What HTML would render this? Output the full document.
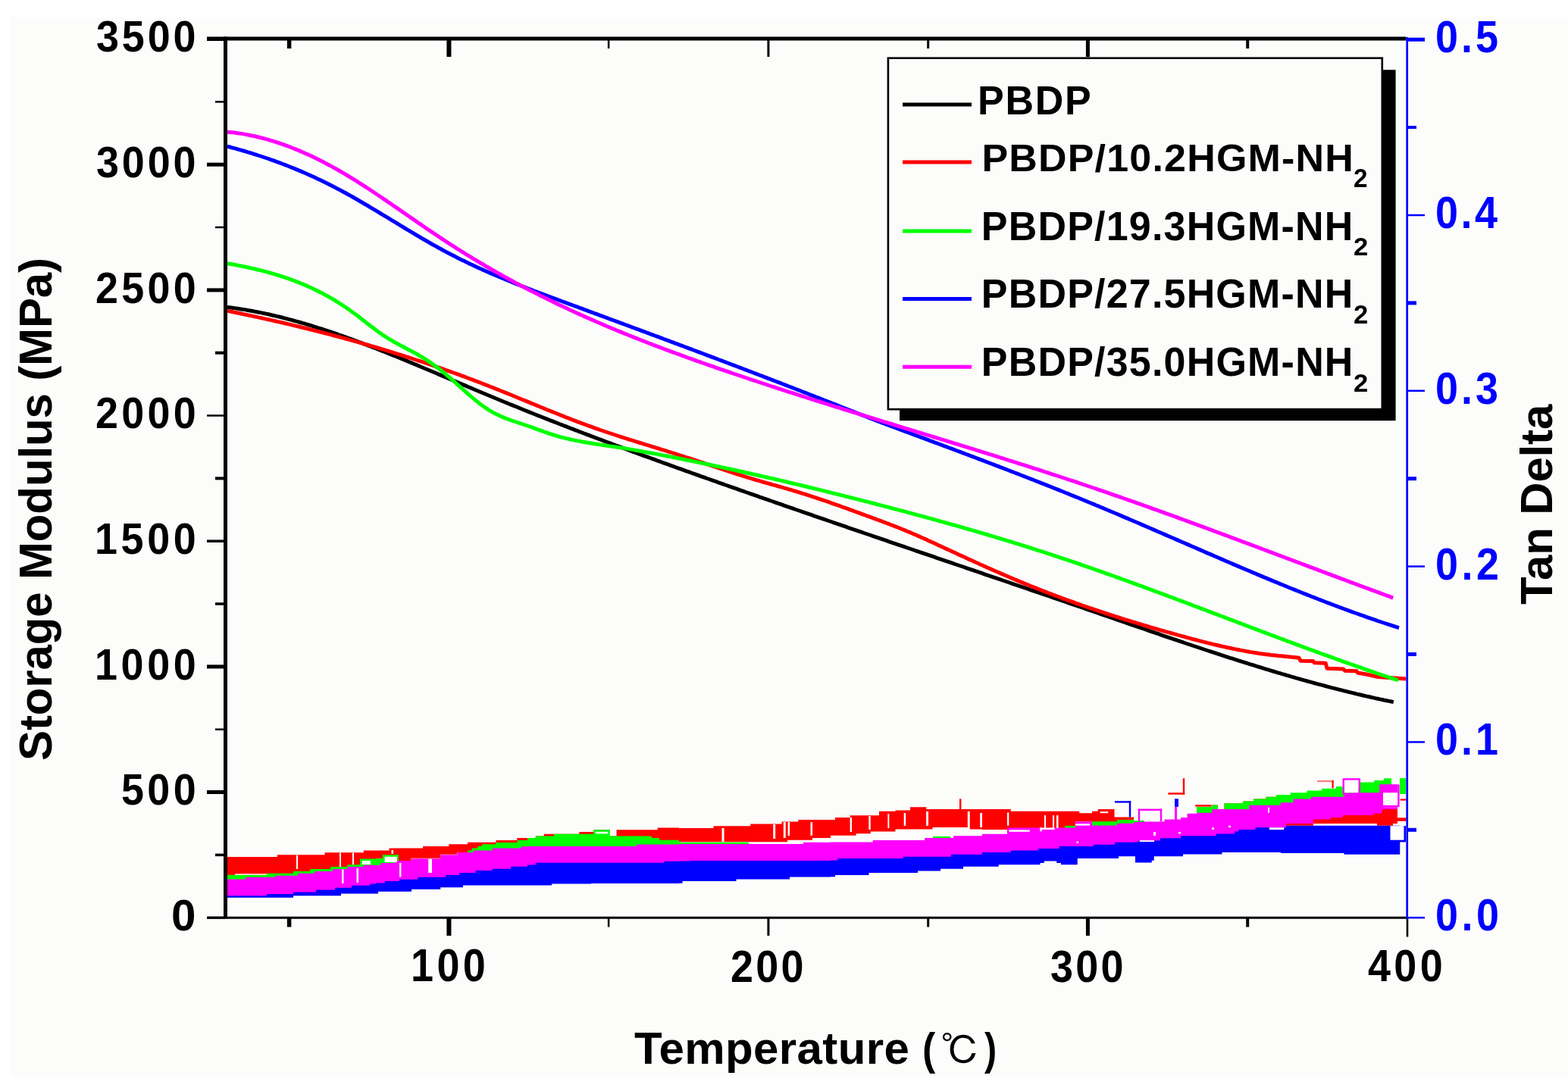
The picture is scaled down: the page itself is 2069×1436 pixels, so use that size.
<!DOCTYPE html><html><head><meta charset="utf-8"><style>html,body{margin:0;padding:0;background:#fff;}svg{display:block}text{font-family:'Liberation Sans', Arial, sans-serif;font-weight:bold;}</style></head><body>
<svg width="2069" height="1436" viewBox="0 0 2069 1436">
<rect x="0" y="0" width="2069" height="1436" fill="#fff"/>
<rect x="13" y="23" width="2056" height="1398" fill="#fcfcfb"/>
<polygon points="300.00,1131.1 365.75,1131.1 365.75,1128.2 428.50,1128.2 428.50,1125.3 479.75,1125.3 479.75,1122.4 496.00,1122.4 496.00,1122.5 513.50,1122.5 513.50,1119.6 558.00,1119.6 558.00,1117.0 592.25,1117.0 592.25,1114.3 617.00,1114.3 617.00,1111.7 654.50,1111.7 654.50,1109.0 682.25,1109.0 682.25,1106.1 696.00,1106.1 696.00,1106.0 706.75,1106.0 706.75,1103.4 717.75,1103.4 717.75,1100.7 764.25,1100.7 764.25,1098.0 783.00,1098.0 783.00,1095.3 804.75,1095.3 804.75,1103.4 813.50,1103.4 813.50,1095.3 867.75,1095.3 867.75,1092.4 896.00,1092.4 896.00,1092.9 941.50,1092.9 941.50,1090.2 990.25,1090.2 990.25,1087.5 1031.50,1087.5 1031.50,1084.6 1053.25,1084.6 1053.25,1082.0 1102.00,1082.0 1102.00,1079.0 1121.75,1079.0 1121.75,1076.3 1160.00,1076.3 1160.00,1070.8 1181.50,1070.8 1181.50,1069.6 1201.00,1069.6 1201.00,1065.3 1222.25,1065.3 1222.25,1067.9 1296.00,1067.9 1296.00,1068.0 1333.75,1068.0 1333.75,1070.7 1424.25,1070.7 1424.25,1073.2 1441.00,1073.2 1441.00,1070.7 1448.75,1070.7 1448.75,1068.0 1470.50,1068.0 1470.50,1078.5 1496.00,1078.5 1496.00,1083.0 1510.00,1083.0 1510.00,1085.4 1536.75,1085.4 1536.75,1082.5 1558.00,1082.5 1558.00,1080.1 1566.75,1080.1 1566.75,1074.8 1579.00,1074.8 1579.00,1065.1 1599.00,1065.1 1599.00,1062.6 1606.75,1062.6 1606.75,1069.0 1615.50,1069.0 1615.50,1060.3 1640.00,1060.3 1640.00,1057.4 1654.00,1057.4 1654.00,1054.5 1670.50,1054.5 1670.50,1051.8 1684.00,1051.8 1684.00,1049.1 1690.00,1049.1 1690.00,1090.4 1697.00,1090.4 1697.00,1085.0 1733.00,1085.0 1733.00,1079.5 1755.25,1079.5 1755.25,1077.3 1771.50,1077.3 1771.50,1074.1 1812.25,1074.1 1812.25,1071.4 1823.25,1071.4 1823.25,1066.0 1844.00,1066.0 1844.00,1087.0 1838.00,1087.0 1838.00,1089.7 1817.00,1089.7 1817.00,1087.0 1733.00,1087.0 1733.00,1089.7 1697.00,1089.7 1697.00,1092.0 1690.00,1092.0 1690.00,1063.8 1689.50,1063.8 1689.50,1066.7 1648.25,1066.7 1648.25,1072.0 1599.00,1072.0 1599.00,1076.8 1579.00,1076.8 1579.00,1077.8 1566.75,1077.8 1566.75,1083.1 1558.00,1083.1 1558.00,1085.5 1536.75,1085.5 1536.75,1088.4 1505.75,1088.4 1505.75,1089.0 1496.00,1089.0 1496.00,1082.0 1474.00,1082.0 1474.00,1085.0 1441.00,1085.0 1441.00,1084.3 1419.00,1084.3 1419.00,1090.0 1405.00,1090.0 1405.00,1093.0 1329.00,1093.0 1329.00,1094.9 1296.00,1094.9 1296.00,1094.5 1277.00,1094.5 1277.00,1092.0 1230.50,1092.0 1230.50,1094.5 1181.50,1094.5 1181.50,1097.4 1148.75,1097.4 1148.75,1100.3 1129.50,1100.3 1129.50,1102.7 1096.00,1102.7 1096.00,1105.9 1072.00,1105.9 1072.00,1108.8 1039.00,1108.8 1039.00,1111.2 896.00,1111.2 896.00,1110.2 870.00,1110.2 870.00,1107.5 859.50,1107.5 859.50,1104.9 804.75,1104.9 804.75,1096.8 783.00,1096.8 783.00,1102.2 731.00,1102.2 731.00,1104.9 706.75,1104.9 706.75,1107.5 696.00,1107.5 696.00,1110.5 682.75,1110.5 682.75,1113.4 654.50,1113.4 654.50,1115.8 636.25,1115.8 636.25,1118.2 630.50,1118.2 630.50,1121.1 622.75,1121.1 622.75,1124.0 617.00,1124.0 617.00,1127.5 616.00,1127.5 616.00,1125.0 603.00,1125.0 603.00,1127.8 581.00,1127.8 581.00,1132.7 542.50,1132.7 542.50,1135.9 526.00,1135.9 526.00,1129.8 507.75,1129.8 507.75,1133.2 496.00,1133.2 496.00,1135.0 475.00,1135.0 475.00,1142.7 458.50,1142.7 458.50,1145.6 436.00,1145.6 436.00,1148.5 409.00,1148.5 409.00,1151.5 387.00,1151.5 387.00,1154.3 352.00,1154.3 352.00,1156.3 300.00,1156.3" fill="#ff0000"/>
<polygon points="300.00,1154.8 352.00,1154.8 352.00,1152.8 387.00,1152.8 387.00,1150.0 409.00,1150.0 409.00,1147.0 436.00,1147.0 436.00,1144.1 458.50,1144.1 458.50,1141.2 475.00,1141.2 475.00,1133.5 496.00,1133.5 496.00,1133.2 504.75,1133.2 504.75,1128.3 526.00,1128.3 526.00,1137.1 542.50,1137.1 542.50,1134.2 581.25,1134.2 581.25,1129.3 603.50,1129.3 603.50,1126.0 617.00,1126.0 617.00,1122.5 622.75,1122.5 622.75,1119.6 630.50,1119.6 630.50,1116.7 636.25,1116.7 636.25,1114.3 654.50,1114.3 654.50,1111.9 682.75,1111.9 682.75,1109.0 696.00,1109.0 696.00,1106.0 706.75,1106.0 706.75,1103.4 731.00,1103.4 731.00,1100.7 783.00,1100.7 783.00,1095.3 804.75,1095.3 804.75,1103.4 859.50,1103.4 859.50,1106.0 870.00,1106.0 870.00,1108.7 896.00,1108.7 896.00,1111.7 988.00,1111.7 988.00,1115.1 1060.00,1115.1 1060.00,1112.7 1096.00,1112.7 1096.00,1112.4 1151.75,1112.4 1151.75,1110.0 1220.25,1110.0 1220.25,1107.1 1231.00,1107.1 1231.00,1104.1 1254.50,1104.1 1254.50,1107.1 1258.00,1107.1 1258.00,1104.2 1296.00,1104.2 1296.00,1101.7 1329.00,1101.7 1329.00,1093.5 1405.00,1093.5 1405.00,1090.0 1419.00,1090.0 1419.00,1085.3 1441.00,1085.3 1441.00,1084.3 1474.00,1084.3 1474.00,1081.9 1496.00,1081.9 1496.00,1083.0 1510.00,1083.0 1510.00,1085.4 1536.75,1085.4 1536.75,1082.5 1558.00,1082.5 1558.00,1080.1 1566.75,1080.1 1566.75,1074.8 1579.00,1074.8 1579.00,1065.1 1599.00,1065.1 1599.00,1062.6 1606.75,1062.6 1606.75,1069.0 1615.50,1069.0 1615.50,1060.3 1640.00,1060.3 1640.00,1057.4 1654.00,1057.4 1654.00,1054.5 1670.50,1054.5 1670.50,1051.8 1684.00,1051.8 1684.00,1049.1 1690.00,1049.1 1690.00,1048.9 1702.75,1048.9 1702.75,1046.2 1724.50,1046.2 1724.50,1043.5 1744.00,1043.5 1744.00,1040.8 1763.00,1040.8 1763.00,1038.1 1771.50,1038.1 1771.50,1040.0 1795.00,1040.0 1795.00,1032.6 1813.25,1032.6 1813.25,1029.9 1826.00,1029.9 1826.00,1027.2 1836.00,1027.2 1836.00,1036.4 1844.00,1036.4 1844.00,1043.4 1820.50,1043.4 1820.50,1054.2 1787.00,1054.2 1787.00,1057.0 1773.50,1057.0 1773.50,1059.7 1730.00,1059.7 1730.00,1062.4 1706.50,1062.4 1706.50,1067.3 1690.00,1067.3 1690.00,1067.8 1689.50,1067.8 1689.50,1070.7 1648.25,1070.7 1648.25,1076.0 1599.00,1076.0 1599.00,1080.8 1579.00,1080.8 1579.00,1081.8 1566.75,1081.8 1566.75,1087.1 1558.00,1087.1 1558.00,1089.5 1536.75,1089.5 1536.75,1092.4 1505.75,1092.4 1505.75,1093.0 1496.00,1093.0 1496.00,1094.7 1474.00,1094.7 1474.00,1097.6 1441.00,1097.6 1441.00,1092.3 1419.00,1092.3 1419.00,1100.5 1329.00,1100.5 1329.00,1108.7 1296.00,1108.7 1296.00,1111.2 1258.00,1111.2 1258.00,1114.1 1220.25,1114.1 1220.25,1117.0 1151.75,1117.0 1151.75,1119.4 1096.00,1119.4 1096.00,1119.7 1060.00,1119.7 1060.00,1122.1 896.00,1122.1 896.00,1122.5 840.00,1122.5 840.00,1124.9 696.00,1124.9 696.00,1125.2 687.50,1125.2 687.50,1127.6 649.75,1127.6 649.75,1130.5 624.75,1130.5 624.75,1133.0 603.50,1133.0 603.50,1136.3 581.25,1136.3 581.25,1141.2 542.50,1141.2 542.50,1144.1 521.25,1144.1 521.25,1147.0 502.00,1147.0 502.00,1149.9 496.00,1149.9 496.00,1149.7 479.75,1149.7 479.75,1152.1 458.50,1152.1 458.50,1155.0 439.00,1155.0 439.00,1158.0 415.00,1158.0 415.00,1160.8 393.00,1160.8 393.00,1163.7 363.00,1163.7 363.00,1165.7 324.00,1165.7 324.00,1168.6 300.00,1168.6" fill="#00ff00"/>
<polygon points="300.00,1176.3 352.00,1176.3 352.00,1173.9 387.00,1173.9 387.00,1171.5 417.00,1171.5 417.00,1168.6 442.00,1168.6 442.00,1165.7 464.00,1165.7 464.00,1162.8 488.00,1162.8 488.00,1160.4 496.00,1160.4 496.00,1159.5 507.75,1159.5 507.75,1157.1 527.00,1157.1 527.00,1154.7 551.25,1154.7 551.25,1151.8 588.00,1151.8 588.00,1148.9 606.25,1148.9 606.25,1146.0 627.50,1146.0 627.50,1143.1 649.75,1143.1 649.75,1140.7 674.00,1140.7 674.00,1137.8 696.00,1137.8 696.00,1135.5 706.75,1135.5 706.75,1132.8 876.00,1132.8 876.00,1130.7 896.00,1130.7 896.00,1130.5 911.00,1130.5 911.00,1129.9 1096.00,1129.9 1096.00,1129.5 1105.25,1129.5 1105.25,1127.1 1191.75,1127.1 1191.75,1124.7 1255.00,1124.7 1255.00,1121.8 1296.00,1121.8 1296.00,1118.9 1333.75,1118.9 1333.75,1116.5 1370.00,1116.5 1370.00,1114.0 1397.50,1114.0 1397.50,1111.1 1443.00,1111.1 1443.00,1108.7 1471.00,1108.7 1471.00,1105.8 1496.00,1105.8 1496.00,1105.5 1502.00,1105.5 1502.00,1103.6 1531.00,1103.6 1531.00,1100.2 1558.00,1100.2 1558.00,1097.3 1604.50,1097.3 1604.50,1094.4 1629.00,1094.4 1629.00,1091.5 1634.25,1091.5 1634.25,1089.1 1656.50,1089.1 1656.50,1086.2 1690.00,1086.2 1690.00,1092.0 1697.00,1092.0 1697.00,1089.7 1847.25,1089.7 1847.25,1127.7 1773.50,1127.7 1773.50,1125.9 1690.00,1125.9 1690.00,1125.0 1612.50,1125.0 1612.50,1127.4 1561.00,1127.4 1561.00,1130.3 1522.75,1130.3 1522.75,1135.7 1519.75,1135.7 1519.75,1138.6 1498.00,1138.6 1498.00,1130.3 1496.00,1130.3 1496.00,1130.2 1476.00,1130.2 1476.00,1133.1 1421.75,1133.1 1421.75,1141.3 1400.00,1141.3 1400.00,1138.9 1394.25,1138.9 1394.25,1136.5 1377.75,1136.5 1377.75,1138.9 1372.50,1138.9 1372.50,1141.3 1317.75,1141.3 1317.75,1143.7 1296.00,1143.7 1296.00,1143.8 1271.00,1143.8 1271.00,1146.7 1241.00,1146.7 1241.00,1149.6 1211.00,1149.6 1211.00,1152.0 1146.50,1152.0 1146.50,1154.9 1102.00,1154.9 1102.00,1157.3 1096.00,1157.3 1096.00,1157.6 1042.00,1157.6 1042.00,1160.5 971.50,1160.5 971.50,1163.0 900.50,1163.0 900.50,1165.8 896.00,1165.8 896.00,1165.9 780.00,1165.9 780.00,1166.5 728.00,1166.5 728.00,1168.6 696.00,1168.6 696.00,1168.4 611.00,1168.4 611.00,1171.3 581.25,1171.3 581.25,1173.8 543.00,1173.8 543.00,1176.7 499.00,1176.7 499.00,1179.6 496.00,1179.6 496.00,1179.4 450.00,1179.4 450.00,1182.3 387.00,1182.3 387.00,1184.7 300.00,1184.7" fill="#0000ff"/>
<polygon points="300.00,1160.6 324.00,1160.6 324.00,1157.7 363.00,1157.7 363.00,1155.7 393.00,1155.7 393.00,1152.8 415.00,1152.8 415.00,1150.0 439.00,1150.0 439.00,1147.0 458.50,1147.0 458.50,1144.1 479.75,1144.1 479.75,1141.7 496.00,1141.7 496.00,1141.9 502.00,1141.9 502.00,1139.0 521.25,1139.0 521.25,1136.1 542.50,1136.1 542.50,1133.2 581.25,1133.2 581.25,1128.3 603.50,1128.3 603.50,1125.0 624.75,1125.0 624.75,1122.5 649.75,1122.5 649.75,1119.6 687.50,1119.6 687.50,1117.2 696.00,1117.2 696.00,1116.9 840.00,1116.9 840.00,1114.5 896.00,1114.5 896.00,1114.1 1060.00,1114.1 1060.00,1111.7 1096.00,1111.7 1096.00,1111.4 1151.75,1111.4 1151.75,1109.0 1220.25,1109.0 1220.25,1106.1 1258.00,1106.1 1258.00,1103.2 1296.00,1103.2 1296.00,1100.7 1329.00,1100.7 1329.00,1092.5 1419.00,1092.5 1419.00,1084.3 1441.00,1084.3 1441.00,1089.6 1474.00,1089.6 1474.00,1086.7 1496.00,1086.7 1496.00,1085.0 1505.75,1085.0 1505.75,1084.4 1536.75,1084.4 1536.75,1081.5 1558.00,1081.5 1558.00,1079.1 1566.75,1079.1 1566.75,1073.8 1579.00,1073.8 1579.00,1072.8 1599.00,1072.8 1599.00,1068.0 1648.25,1068.0 1648.25,1062.7 1689.50,1062.7 1689.50,1059.8 1690.00,1059.8 1690.00,1059.3 1706.50,1059.3 1706.50,1054.4 1730.00,1054.4 1730.00,1051.7 1773.50,1051.7 1773.50,1049.0 1787.00,1049.0 1787.00,1046.2 1820.50,1046.2 1820.50,1035.4 1844.00,1035.4 1844.00,1068.0 1823.25,1068.0 1823.25,1073.4 1812.25,1073.4 1812.25,1076.1 1771.50,1076.1 1771.50,1079.3 1755.25,1079.3 1755.25,1081.5 1733.00,1081.5 1733.00,1087.0 1697.00,1087.0 1697.00,1092.4 1690.00,1092.4 1690.00,1092.2 1656.50,1092.2 1656.50,1095.1 1634.25,1095.1 1634.25,1097.5 1629.00,1097.5 1629.00,1100.4 1604.50,1100.4 1604.50,1103.3 1558.00,1103.3 1558.00,1106.2 1531.00,1106.2 1531.00,1109.6 1502.00,1109.6 1502.00,1111.5 1496.00,1111.5 1496.00,1111.8 1471.00,1111.8 1471.00,1114.7 1443.00,1114.7 1443.00,1117.1 1397.50,1117.1 1397.50,1120.0 1370.00,1120.0 1370.00,1122.5 1333.75,1122.5 1333.75,1124.9 1296.00,1124.9 1296.00,1127.8 1255.00,1127.8 1255.00,1130.7 1191.75,1130.7 1191.75,1133.1 1105.25,1133.1 1105.25,1135.5 1096.00,1135.5 1096.00,1135.9 911.00,1135.9 911.00,1136.5 896.00,1136.5 896.00,1136.7 876.00,1136.7 876.00,1138.8 706.75,1138.8 706.75,1141.5 696.00,1141.5 696.00,1143.8 674.00,1143.8 674.00,1146.7 649.75,1146.7 649.75,1149.1 627.50,1149.1 627.50,1152.0 606.25,1152.0 606.25,1154.9 588.00,1154.9 588.00,1157.8 551.25,1157.8 551.25,1160.7 527.00,1160.7 527.00,1163.1 507.75,1163.1 507.75,1165.5 496.00,1165.5 496.00,1166.4 488.00,1166.4 488.00,1168.8 464.00,1168.8 464.00,1171.7 442.00,1171.7 442.00,1174.6 417.00,1174.6 417.00,1177.5 387.00,1177.5 387.00,1179.9 352.00,1179.9 352.00,1182.3 300.00,1182.3" fill="#ff00ff"/>
<rect x="391.0" y="1128.5" width="2.0" height="18.5" fill="#ffffff"/>
<rect x="448.0" y="1125.5" width="2.0" height="18.5" fill="#ffffff"/>
<rect x="465.0" y="1125.5" width="2.0" height="15.5" fill="#ffffff"/>
<rect x="516.5" y="1122.0" width="2.5" height="5.0" fill="#ffffff"/>
<rect x="952.5" y="1093.0" width="3.0" height="18.0" fill="#ffffff"/>
<rect x="1020.2" y="1088.0" width="2.9" height="19.0" fill="#ffffff"/>
<rect x="1033.8" y="1085.0" width="2.9" height="21.0" fill="#ffffff"/>
<rect x="1039.6" y="1085.0" width="2.4" height="18.0" fill="#ffffff"/>
<rect x="1069.5" y="1085.0" width="2.5" height="18.0" fill="#ffffff"/>
<rect x="1121.6" y="1079.0" width="2.4" height="19.0" fill="#ffffff"/>
<rect x="1146.3" y="1077.0" width="2.4" height="18.0" fill="#ffffff"/>
<rect x="1171.4" y="1074.0" width="1.9" height="19.0" fill="#ffffff"/>
<rect x="1192.7" y="1073.0" width="2.4" height="17.0" fill="#ffffff"/>
<rect x="1222.1" y="1071.0" width="2.9" height="19.0" fill="#ffffff"/>
<rect x="1276.8" y="1071.0" width="2.9" height="24.0" fill="#ffffff"/>
<rect x="1293.2" y="1073.0" width="2.8" height="19.0" fill="#ffffff"/>
<rect x="1329.0" y="1072.5" width="2.3" height="17.1" fill="#ffffff"/>
<rect x="1378.0" y="1076.0" width="2.0" height="17.0" fill="#ffffff"/>
<rect x="1389.0" y="1076.0" width="2.0" height="17.0" fill="#ffffff"/>
<rect x="1394.0" y="1076.0" width="2.5" height="17.0" fill="#ffffff"/>
<rect x="451.0" y="1147.5" width="2.5" height="18.5" fill="#ffffff"/>
<rect x="470.5" y="1146.0" width="2.5" height="19.0" fill="#ffffff"/>
<rect x="527.0" y="1139.0" width="2.4" height="18.4" fill="#ffffff"/>
<rect x="565.2" y="1133.7" width="4.8" height="18.3" fill="#ffffff"/>
<rect x="1331.3" y="1095.4" width="27.5" height="2.4" fill="#ffffff"/>
<rect x="1825.0" y="1046.2" width="19.8" height="19.0" fill="#ffffff"/>
<rect x="1774.0" y="1029.7" width="18.5" height="16.7" fill="#ffffff"/>
<rect x="507.6" y="1130.7" width="16.4" height="7.3" fill="#ffffff"/>
<rect x="477.7" y="1136.0" width="11.3" height="5.0" fill="#ffffff"/>
<rect x="785.9" y="1097.8" width="16.4" height="2.6" fill="#ffffff"/>
<rect x="310.0" y="1153.3" width="42.0" height="1.5" fill="#ffffff"/>
<rect x="1418.8" y="1087.2" width="19.3" height="2.4" fill="#ffffff"/>
<rect x="1372.4" y="1092.5" width="19.3" height="2.4" fill="#ffffff"/>
<rect x="1372.4" y="1092.5" width="2.4" height="4.8" fill="#ffffff"/>
<rect x="1451.6" y="1071.2" width="10.7" height="2.0" fill="#ffffff"/>
<rect x="1674.9" y="1092.2" width="19.3" height="2.9" fill="#ffffff"/>
<rect x="1503.7" y="1109.1" width="19.3" height="1.9" fill="#ffffff"/>
<rect x="1522.0" y="1098.0" width="3.0" height="4.8" fill="#ffffff"/>
<rect x="1555.0" y="1098.0" width="3.0" height="2.5" fill="#ffffff"/>
<rect x="1599.0" y="1092.2" width="3.0" height="2.8" fill="#ffffff"/>
<rect x="1621.0" y="1089.7" width="3.0" height="2.4" fill="#ffffff"/>
<rect x="1673.0" y="1065.6" width="2.0" height="7.2" fill="#ffffff"/>
<rect x="1420.5" y="1110.5" width="2.5" height="2.5" fill="#ffffff"/>
<rect x="1501.8" y="1067.6" width="31.4" height="2.4" fill="#ff00ff"/>
<rect x="1501.8" y="1067.6" width="2.4" height="16.8" fill="#ff00ff"/>
<rect x="1530.8" y="1067.6" width="2.4" height="16.8" fill="#ff00ff"/>
<rect x="1550.0" y="1065.0" width="3.0" height="17.0" fill="#ff00ff"/>
<rect x="1471.0" y="1057.2" width="21.2" height="2.4" fill="#0000ff"/>
<rect x="1489.8" y="1057.2" width="2.4" height="21.3" fill="#0000ff"/>
<rect x="1541.4" y="1046.2" width="21.8" height="2.5" fill="#ff0000"/>
<rect x="1560.8" y="1027.2" width="2.4" height="21.5" fill="#ff0000"/>
<rect x="1550.0" y="1054.3" width="5.0" height="10.6" fill="#0000ff"/>
<rect x="1577.2" y="1062.2" width="21.3" height="2.4" fill="#ff0000"/>
<rect x="1738.0" y="1029.9" width="21.7" height="2.3" fill="#ff8080"/>
<rect x="1757.5" y="1030.0" width="2.2" height="10.3" fill="#ff0000"/>
<rect x="1772.7" y="1028.4" width="21.1" height="19.3" fill="none" stroke="#ff00ff" stroke-width="2.4"/>
<rect x="1821.6" y="1036.6" width="23.8" height="27.4" fill="none" stroke="#ff00ff" stroke-width="2.4"/>
<rect x="1842.0" y="1079.3" width="13.7" height="4.5" fill="#ff0000"/>
<rect x="1847.6" y="1054.4" width="8.1" height="2.2" fill="#ff0000"/>
<rect x="1833.1" y="1090.1" width="21.9" height="21.3" fill="#0000ff"/>
<rect x="1834.5" y="1090.1" width="18.0" height="18.6" fill="#ffffff"/>
<rect x="1266.0" y="1054.3" width="2.4" height="13.7" fill="#ff0000"/>
<rect x="1847.0" y="1027.0" width="8.0" height="21.0" fill="#00ff00"/>
<polyline points="300.0,405.5 303.0,405.8 306.0,406.2 309.0,406.6 312.0,407.1 315.0,407.5 318.0,408.0 321.0,408.4 324.0,408.9 327.0,409.5 330.0,410.0 333.0,410.5 336.0,411.1 339.0,411.7 342.0,412.3 345.0,412.9 348.0,413.5 351.0,414.1 354.0,414.8 357.0,415.5 360.0,416.2 363.0,416.9 366.0,417.6 369.0,418.3 372.0,419.0 375.0,419.8 378.0,420.6 381.0,421.4 384.0,422.2 387.0,423.0 390.0,423.8 393.0,424.6 396.0,425.5 399.0,426.4 402.0,427.2 405.0,428.1 408.0,429.0 411.0,429.9 414.0,430.9 417.0,431.8 420.0,432.8 423.0,433.7 426.0,434.7 429.0,435.7 432.0,436.6 435.0,437.6 438.0,438.7 441.0,439.7 444.0,440.7 447.0,441.8 450.0,442.8 453.0,443.9 456.0,444.9 459.0,446.0 462.0,447.1 465.0,448.2 468.0,449.3 471.0,450.4 474.0,451.5 477.0,452.6 480.0,453.8 483.0,454.9 486.0,456.1 489.0,457.2 492.0,458.4 495.0,459.5 498.0,460.7 501.0,461.9 504.0,463.1 507.0,464.3 510.0,465.5 513.0,466.7 516.0,467.9 519.0,469.1 522.0,470.3 525.0,471.5 528.0,472.7 531.0,474.0 534.0,475.2 537.0,476.4 540.0,477.7 543.0,478.9 546.0,480.2 549.0,481.4 552.0,482.7 555.0,484.0 558.0,485.2 561.0,486.5 564.0,487.7 567.0,489.0 570.0,490.3 573.0,491.5 576.0,492.8 579.0,494.1 582.0,495.4 585.0,496.6 588.0,497.9 591.0,499.2 594.0,500.5 597.0,501.7 600.0,503.0 603.0,504.3 606.0,505.6 609.0,506.8 612.0,508.1 615.0,509.4 618.0,510.7 621.0,511.9 624.0,513.2 627.0,514.5 630.0,515.7 633.0,517.0 636.0,518.3 639.0,519.5 642.0,520.8 645.0,522.0 648.0,523.3 651.0,524.5 654.0,525.8 657.0,527.0 660.0,528.2 663.0,529.5 666.0,530.7 669.0,531.9 672.0,533.2 675.0,534.4 678.0,535.6 681.0,536.8 684.0,538.0 687.0,539.3 690.0,540.5 693.0,541.7 696.0,542.9 699.0,544.1 702.0,545.3 705.0,546.5 708.0,547.7 711.0,548.9 714.0,550.0 717.0,551.2 720.0,552.4 723.0,553.6 726.0,554.8 729.0,555.9 732.0,557.1 735.0,558.3 738.0,559.5 741.0,560.6 744.0,561.8 747.0,562.9 750.0,564.1 753.0,565.3 756.0,566.4 759.0,567.6 762.0,568.7 765.0,569.9 768.0,571.0 771.0,572.2 774.0,573.3 777.0,574.4 780.0,575.6 783.0,576.7 786.0,577.9 789.0,579.0 792.0,580.1 795.0,581.2 798.0,582.4 801.0,583.5 804.0,584.6 807.0,585.7 810.0,586.9 813.0,588.0 816.0,589.1 819.0,590.2 822.0,591.3 825.0,592.4 828.0,593.5 831.0,594.6 834.0,595.8 837.0,596.9 840.0,598.0 843.0,599.1 846.0,600.2 849.0,601.3 852.0,602.4 855.0,603.4 858.0,604.5 861.0,605.6 864.0,606.7 867.0,607.8 870.0,608.9 873.0,610.0 876.0,611.1 879.0,612.2 882.0,613.2 885.0,614.3 888.0,615.4 891.0,616.5 894.0,617.6 897.0,618.6 900.0,619.7 903.0,620.8 906.0,621.9 909.0,622.9 912.0,624.0 915.0,625.1 918.0,626.1 921.0,627.2 924.0,628.3 927.0,629.3 930.0,630.4 933.0,631.5 936.0,632.5 939.0,633.6 942.0,634.7 945.0,635.7 948.0,636.8 951.0,637.8 954.0,638.9 957.0,640.0 960.0,641.0 963.0,642.1 966.0,643.1 969.0,644.2 972.0,645.2 975.0,646.3 978.0,647.4 981.0,648.4 984.0,649.5 987.0,650.5 990.0,651.6 993.0,652.6 996.0,653.7 999.0,654.7 1002.0,655.8 1005.0,656.8 1008.0,657.9 1011.0,658.9 1014.0,659.9 1017.0,661.0 1020.0,662.0 1023.0,663.1 1026.0,664.1 1029.0,665.2 1032.0,666.2 1035.0,667.3 1038.0,668.3 1041.0,669.3 1044.0,670.4 1047.0,671.4 1050.0,672.5 1053.0,673.5 1056.0,674.5 1059.0,675.6 1062.0,676.6 1065.0,677.7 1068.0,678.7 1071.0,679.7 1074.0,680.8 1077.0,681.8 1080.0,682.8 1083.0,683.9 1086.0,684.9 1089.0,685.9 1092.0,687.0 1095.0,688.0 1098.0,689.0 1101.0,690.1 1104.0,691.1 1107.0,692.1 1110.0,693.2 1113.0,694.2 1116.0,695.2 1119.0,696.3 1122.0,697.3 1125.0,698.3 1128.0,699.3 1131.0,700.4 1134.0,701.4 1137.0,702.4 1140.0,703.5 1143.0,704.5 1146.0,705.5 1149.0,706.5 1152.0,707.6 1155.0,708.6 1158.0,709.6 1161.0,710.7 1164.0,711.7 1167.0,712.7 1170.0,713.7 1173.0,714.8 1176.0,715.8 1179.0,716.8 1182.0,717.8 1185.0,718.9 1188.0,719.9 1191.0,720.9 1194.0,721.9 1197.0,723.0 1200.0,724.0 1203.0,725.0 1206.0,726.0 1209.0,727.1 1212.0,728.1 1215.0,729.1 1218.0,730.1 1221.0,731.2 1224.0,732.2 1227.0,733.2 1230.0,734.2 1233.0,735.2 1236.0,736.3 1239.0,737.3 1242.0,738.3 1245.0,739.3 1248.0,740.4 1251.0,741.4 1254.0,742.4 1257.0,743.4 1260.0,744.5 1263.0,745.5 1266.0,746.5 1269.0,747.5 1272.0,748.5 1275.0,749.6 1278.0,750.6 1281.0,751.6 1284.0,752.6 1287.0,753.7 1290.0,754.7 1293.0,755.7 1296.0,756.7 1299.0,757.8 1302.0,758.8 1305.0,759.8 1308.0,760.8 1311.0,761.9 1314.0,762.9 1317.0,763.9 1320.0,764.9 1323.0,766.0 1326.0,767.0 1329.0,768.0 1332.0,769.0 1335.0,770.1 1338.0,771.1 1341.0,772.1 1344.0,773.1 1347.0,774.2 1350.0,775.2 1353.0,776.2 1356.0,777.2 1359.0,778.3 1362.0,779.3 1365.0,780.3 1368.0,781.4 1371.0,782.4 1374.0,783.4 1377.0,784.4 1380.0,785.5 1383.0,786.5 1386.0,787.5 1389.0,788.6 1392.0,789.6 1395.0,790.6 1398.0,791.6 1401.0,792.7 1404.0,793.7 1407.0,794.7 1410.0,795.8 1413.0,796.8 1416.0,797.8 1419.0,798.9 1422.0,799.9 1425.0,800.9 1428.0,802.0 1431.0,803.0 1434.0,804.1 1437.0,805.1 1440.0,806.1 1443.0,807.2 1446.0,808.2 1449.0,809.2 1452.0,810.3 1455.0,811.3 1458.0,812.4 1461.0,813.4 1464.0,814.4 1467.0,815.5 1470.0,816.5 1473.0,817.6 1476.0,818.6 1479.0,819.6 1482.0,820.7 1485.0,821.7 1488.0,822.8 1491.0,823.8 1494.0,824.8 1497.0,825.9 1500.0,826.9 1503.0,827.9 1506.0,829.0 1509.0,830.0 1512.0,831.0 1515.0,832.1 1518.0,833.1 1521.0,834.1 1524.0,835.2 1527.0,836.2 1530.0,837.2 1533.0,838.3 1536.0,839.3 1539.0,840.3 1542.0,841.3 1545.0,842.4 1548.0,843.4 1551.0,844.4 1554.0,845.4 1557.0,846.4 1560.0,847.4 1563.0,848.5 1566.0,849.5 1569.0,850.5 1572.0,851.5 1575.0,852.5 1578.0,853.5 1581.0,854.5 1584.0,855.5 1587.0,856.5 1590.0,857.5 1593.0,858.5 1596.0,859.5 1599.0,860.4 1602.0,861.4 1605.0,862.4 1608.0,863.4 1611.0,864.4 1614.0,865.3 1617.0,866.3 1620.0,867.3 1623.0,868.3 1626.0,869.2 1629.0,870.2 1632.0,871.1 1635.0,872.1 1638.0,873.0 1641.0,874.0 1644.0,874.9 1647.0,875.9 1650.0,876.8 1653.0,877.7 1656.0,878.7 1659.0,879.6 1662.0,880.5 1665.0,881.4 1668.0,882.4 1671.0,883.3 1674.0,884.2 1677.0,885.1 1680.0,886.0 1683.0,886.9 1686.0,887.8 1689.0,888.7 1692.0,889.6 1695.0,890.4 1698.0,891.3 1701.0,892.2 1704.0,893.1 1707.0,893.9 1710.0,894.8 1713.0,895.6 1716.0,896.5 1719.0,897.3 1722.0,898.2 1725.0,899.0 1728.0,899.8 1731.0,900.7 1734.0,901.5 1737.0,902.3 1740.0,903.1 1743.0,903.9 1746.0,904.7 1749.0,905.5 1752.0,906.3 1755.0,907.1 1758.0,907.9 1761.0,908.6 1764.0,909.4 1767.0,910.2 1770.0,910.9 1773.0,911.7 1776.0,912.4 1779.0,913.2 1782.0,913.9 1785.0,914.6 1788.0,915.3 1791.0,916.1 1794.0,916.8 1797.0,917.5 1800.0,918.2 1803.0,918.9 1806.0,919.5 1809.0,920.2 1812.0,920.9 1815.0,921.6 1818.0,922.2 1821.0,922.9 1824.0,923.5 1827.0,924.2 1830.0,924.8 1833.0,925.4 1836.0,926.0 1838.8,926.6" fill="none" stroke="#000000" stroke-width="5" stroke-linejoin="round"/>
<polyline points="300.0,410.3 303.0,410.9 306.0,411.5 309.0,412.1 312.0,412.7 315.0,413.3 318.0,414.0 321.0,414.6 324.0,415.2 327.0,415.9 330.0,416.5 333.0,417.1 336.0,417.8 339.0,418.4 342.0,419.1 345.0,419.7 348.0,420.4 351.0,421.1 354.0,421.7 357.0,422.4 360.0,423.1 363.0,423.8 366.0,424.5 369.0,425.1 372.0,425.8 375.0,426.5 378.0,427.2 381.0,427.9 384.0,428.6 387.0,429.4 390.0,430.1 393.0,430.8 396.0,431.5 399.0,432.3 402.0,433.0 405.0,433.7 408.0,434.5 411.0,435.2 414.0,436.0 417.0,436.7 420.0,437.5 423.0,438.3 426.0,439.0 429.0,439.8 432.0,440.6 435.0,441.4 438.0,442.2 441.0,443.0 444.0,443.8 447.0,444.6 450.0,445.4 453.0,446.2 456.0,447.0 459.0,447.9 462.0,448.7 465.0,449.5 468.0,450.4 471.0,451.2 474.0,452.0 477.0,452.9 480.0,453.8 483.0,454.6 486.0,455.5 489.0,456.4 492.0,457.2 495.0,458.1 498.0,459.0 501.0,459.9 504.0,460.8 507.0,461.7 510.0,462.6 513.0,463.5 516.0,464.5 519.0,465.4 522.0,466.3 525.0,467.3 528.0,468.2 531.0,469.2 534.0,470.1 537.0,471.1 540.0,472.0 543.0,473.0 546.0,474.0 549.0,475.0 552.0,476.0 555.0,476.9 558.0,477.9 561.0,478.9 564.0,480.0 567.0,481.0 570.0,482.0 573.0,483.0 576.0,484.1 579.0,485.1 582.0,486.1 585.0,487.2 588.0,488.3 591.0,489.3 594.0,490.4 597.0,491.5 600.0,492.5 603.0,493.6 606.0,494.7 609.0,495.8 612.0,496.9 615.0,498.0 618.0,499.2 621.0,500.3 624.0,501.4 627.0,502.6 630.0,503.7 633.0,504.8 636.0,506.0 639.0,507.2 642.0,508.3 645.0,509.5 648.0,510.7 651.0,511.9 654.0,513.1 657.0,514.3 660.0,515.5 663.0,516.7 666.0,517.9 669.0,519.1 672.0,520.3 675.0,521.5 678.0,522.8 681.0,524.0 684.0,525.2 687.0,526.5 690.0,527.7 693.0,528.9 696.0,530.1 699.0,531.4 702.0,532.6 705.0,533.8 708.0,535.1 711.0,536.3 714.0,537.5 717.0,538.7 720.0,540.0 723.0,541.2 726.0,542.4 729.0,543.6 732.0,544.8 735.0,546.0 738.0,547.2 741.0,548.4 744.0,549.6 747.0,550.8 750.0,551.9 753.0,553.1 756.0,554.3 759.0,555.4 762.0,556.6 765.0,557.7 768.0,558.8 771.0,559.9 774.0,561.0 777.0,562.1 780.0,563.2 783.0,564.3 786.0,565.4 789.0,566.4 792.0,567.5 795.0,568.5 798.0,569.5 801.0,570.5 804.0,571.5 807.0,572.5 810.0,573.5 813.0,574.5 816.0,575.5 819.0,576.5 822.0,577.4 825.0,578.4 828.0,579.3 831.0,580.3 834.0,581.2 837.0,582.1 840.0,583.1 843.0,584.0 846.0,584.9 849.0,585.9 852.0,586.8 855.0,587.7 858.0,588.6 861.0,589.6 864.0,590.5 867.0,591.4 870.0,592.3 873.0,593.3 876.0,594.2 879.0,595.1 882.0,596.1 885.0,597.0 888.0,598.0 891.0,598.9 894.0,599.9 897.0,600.8 900.0,601.8 903.0,602.8 906.0,603.8 909.0,604.7 912.0,605.7 915.0,606.7 918.0,607.7 921.0,608.7 924.0,609.7 927.0,610.7 930.0,611.7 933.0,612.7 936.0,613.7 939.0,614.7 942.0,615.7 945.0,616.7 948.0,617.7 951.0,618.7 954.0,619.7 957.0,620.7 960.0,621.7 963.0,622.7 966.0,623.7 969.0,624.6 972.0,625.6 975.0,626.5 978.0,627.5 981.0,628.4 984.0,629.4 987.0,630.3 990.0,631.2 993.0,632.1 996.0,633.0 999.0,633.9 1002.0,634.7 1005.0,635.6 1008.0,636.5 1011.0,637.3 1014.0,638.1 1017.0,639.0 1020.0,639.8 1023.0,640.7 1026.0,641.5 1029.0,642.4 1032.0,643.2 1035.0,644.1 1038.0,644.9 1041.0,645.8 1044.0,646.7 1047.0,647.6 1050.0,648.5 1053.0,649.4 1056.0,650.3 1059.0,651.3 1062.0,652.2 1065.0,653.2 1068.0,654.2 1071.0,655.1 1074.0,656.1 1077.0,657.1 1080.0,658.1 1083.0,659.1 1086.0,660.1 1089.0,661.2 1092.0,662.2 1095.0,663.2 1098.0,664.3 1101.0,665.3 1104.0,666.4 1107.0,667.4 1110.0,668.5 1113.0,669.6 1116.0,670.6 1119.0,671.7 1122.0,672.8 1125.0,673.9 1128.0,675.0 1131.0,676.1 1134.0,677.2 1137.0,678.3 1140.0,679.4 1143.0,680.5 1146.0,681.6 1149.0,682.7 1152.0,683.8 1155.0,684.9 1158.0,686.0 1161.0,687.1 1164.0,688.2 1167.0,689.4 1170.0,690.5 1173.0,691.6 1176.0,692.8 1179.0,693.9 1182.0,695.1 1185.0,696.3 1188.0,697.5 1191.0,698.7 1194.0,699.9 1197.0,701.2 1200.0,702.4 1203.0,703.7 1206.0,705.0 1209.0,706.3 1212.0,707.6 1215.0,709.0 1218.0,710.3 1221.0,711.6 1224.0,713.0 1227.0,714.4 1230.0,715.7 1233.0,717.1 1236.0,718.5 1239.0,719.9 1242.0,721.3 1245.0,722.7 1248.0,724.1 1251.0,725.4 1254.0,726.8 1257.0,728.2 1260.0,729.6 1263.0,731.0 1266.0,732.4 1269.0,733.7 1272.0,735.1 1275.0,736.5 1278.0,737.9 1281.0,739.2 1284.0,740.6 1287.0,742.0 1290.0,743.3 1293.0,744.7 1296.0,746.0 1299.0,747.4 1302.0,748.7 1305.0,750.0 1308.0,751.4 1311.0,752.7 1314.0,754.0 1317.0,755.3 1320.0,756.6 1323.0,757.9 1326.0,759.2 1329.0,760.5 1332.0,761.8 1335.0,763.1 1338.0,764.4 1341.0,765.6 1344.0,766.9 1347.0,768.1 1350.0,769.4 1353.0,770.6 1356.0,771.8 1359.0,773.0 1362.0,774.2 1365.0,775.4 1368.0,776.6 1371.0,777.8 1374.0,779.0 1377.0,780.2 1380.0,781.3 1383.0,782.5 1386.0,783.6 1389.0,784.8 1392.0,785.9 1395.0,787.0 1398.0,788.1 1401.0,789.3 1404.0,790.4 1407.0,791.5 1410.0,792.6 1413.0,793.6 1416.0,794.7 1419.0,795.8 1422.0,796.8 1425.0,797.9 1428.0,799.0 1431.0,800.0 1434.0,801.0 1437.0,802.1 1440.0,803.1 1443.0,804.1 1446.0,805.1 1449.0,806.1 1452.0,807.1 1455.0,808.1 1458.0,809.1 1461.0,810.1 1464.0,811.1 1467.0,812.1 1470.0,813.0 1473.0,814.0 1476.0,814.9 1479.0,815.9 1482.0,816.8 1485.0,817.8 1488.0,818.7 1491.0,819.6 1494.0,820.6 1497.0,821.5 1500.0,822.4 1503.0,823.3 1506.0,824.2 1509.0,825.1 1512.0,826.0 1515.0,826.9 1518.0,827.8 1521.0,828.7 1524.0,829.5 1527.0,830.4 1530.0,831.3 1533.0,832.1 1536.0,833.0 1539.0,833.8 1542.0,834.7 1545.0,835.5 1548.0,836.4 1551.0,837.2 1554.0,838.1 1557.0,838.9 1560.0,839.7 1563.0,840.5 1566.0,841.3 1569.0,842.2 1572.0,843.0 1575.0,843.8 1578.0,844.5 1581.0,845.3 1584.0,846.1 1587.0,846.9 1590.0,847.6 1593.0,848.4 1596.0,849.1 1599.0,849.9 1602.0,850.6 1605.0,851.3 1608.0,852.0 1611.0,852.7 1614.0,853.4 1617.0,854.0 1620.0,854.7 1623.0,855.3 1626.0,856.0 1629.0,856.6 1632.0,857.2 1635.0,857.8 1638.0,858.4 1641.0,858.9 1644.0,859.5 1647.0,860.0 1650.0,860.6 1653.0,861.1 1656.0,861.5 1659.0,862.0 1662.0,862.5 1665.0,862.9 1668.0,863.3 1671.0,863.7 1674.0,864.1 1677.0,864.5 1680.0,864.8 1683.0,865.1 1686.0,865.5 1689.0,865.7 1690.0,865.8 1714.0,868.3 1716.0,872.2 1732.6,872.6 1734.5,874.8 1749.2,875.2 1751.0,882.2 1772.7,883.1 1774.5,885.2 1790.0,885.7 1791.5,888.0 1803.1,890.0 1818.8,893.5 1855.3,896.1" fill="none" stroke="#ff0000" stroke-width="5" stroke-linejoin="round"/>
<polyline points="300.0,347.7 303.0,348.2 306.0,348.8 309.0,349.3 312.0,349.9 315.0,350.5 318.0,351.1 321.0,351.7 324.0,352.3 327.0,353.0 330.0,353.6 333.0,354.3 336.0,355.0 339.0,355.7 342.0,356.4 345.0,357.1 348.0,357.9 351.0,358.7 354.0,359.5 357.0,360.3 360.0,361.2 363.0,362.1 366.0,363.0 369.0,363.9 372.0,364.9 375.0,365.9 378.0,366.9 381.0,367.9 384.0,369.0 387.0,370.1 390.0,371.2 393.0,372.4 396.0,373.6 399.0,374.8 402.0,376.1 405.0,377.4 408.0,378.7 411.0,380.1 414.0,381.5 417.0,382.9 420.0,384.4 423.0,385.9 426.0,387.5 429.0,389.1 432.0,390.8 435.0,392.4 438.0,394.2 441.0,396.0 444.0,397.8 447.0,399.7 450.0,401.6 453.0,403.5 456.0,405.5 459.0,407.6 462.0,409.7 465.0,411.9 468.0,414.1 471.0,416.3 474.0,418.6 477.0,420.9 480.0,423.2 483.0,425.6 486.0,427.9 489.0,430.2 492.0,432.5 495.0,434.8 498.0,437.0 501.0,439.2 504.0,441.3 507.0,443.3 510.0,445.3 513.0,447.1 516.0,448.9 519.0,450.7 522.0,452.4 525.0,454.0 528.0,455.6 531.0,457.2 534.0,458.8 537.0,460.4 540.0,461.9 543.0,463.5 546.0,465.1 549.0,466.8 552.0,468.5 555.0,470.2 558.0,472.0 561.0,473.9 564.0,475.8 567.0,477.9 570.0,479.9 573.0,482.1 576.0,484.3 579.0,486.5 582.0,488.9 585.0,491.3 588.0,493.8 591.0,496.3 594.0,498.9 597.0,501.5 600.0,504.2 603.0,506.9 606.0,509.6 609.0,512.3 612.0,514.9 615.0,517.6 618.0,520.3 621.0,522.9 624.0,525.4 627.0,527.9 630.0,530.3 633.0,532.7 636.0,534.9 639.0,537.1 642.0,539.1 645.0,541.1 648.0,542.9 651.0,544.6 654.0,546.2 657.0,547.6 660.0,549.0 663.0,550.4 666.0,551.6 669.0,552.8 672.0,553.9 675.0,555.0 678.0,556.0 681.0,557.0 684.0,558.0 687.0,559.0 690.0,560.0 693.0,561.0 696.0,562.0 699.0,563.0 702.0,564.1 705.0,565.2 708.0,566.3 711.0,567.3 714.0,568.4 717.0,569.5 720.0,570.6 723.0,571.6 726.0,572.6 729.0,573.6 732.0,574.5 735.0,575.4 738.0,576.3 741.0,577.1 744.0,577.9 747.0,578.6 750.0,579.3 753.0,580.0 756.0,580.6 759.0,581.3 762.0,581.9 765.0,582.4 768.0,583.0 771.0,583.5 774.0,584.0 777.0,584.5 780.0,585.0 783.0,585.5 786.0,586.0 789.0,586.4 792.0,586.9 795.0,587.3 798.0,587.8 801.0,588.2 804.0,588.7 807.0,589.1 810.0,589.6 813.0,590.0 816.0,590.5 819.0,590.9 822.0,591.4 825.0,591.9 828.0,592.4 831.0,592.9 834.0,593.4 837.0,593.9 840.0,594.5 843.0,595.0 846.0,595.5 849.0,596.1 852.0,596.6 855.0,597.2 858.0,597.7 861.0,598.3 864.0,598.9 867.0,599.4 870.0,600.0 873.0,600.6 876.0,601.1 879.0,601.7 882.0,602.3 885.0,602.9 888.0,603.5 891.0,604.1 894.0,604.7 897.0,605.3 900.0,605.9 903.0,606.5 906.0,607.1 909.0,607.7 912.0,608.3 915.0,608.9 918.0,609.5 921.0,610.1 924.0,610.8 927.0,611.4 930.0,612.0 933.0,612.6 936.0,613.3 939.0,613.9 942.0,614.5 945.0,615.2 948.0,615.8 951.0,616.4 954.0,617.1 957.0,617.7 960.0,618.4 963.0,619.0 966.0,619.7 969.0,620.3 972.0,621.0 975.0,621.7 978.0,622.3 981.0,623.0 984.0,623.7 987.0,624.3 990.0,625.0 993.0,625.7 996.0,626.4 999.0,627.0 1002.0,627.7 1005.0,628.4 1008.0,629.1 1011.0,629.8 1014.0,630.5 1017.0,631.1 1020.0,631.8 1023.0,632.5 1026.0,633.2 1029.0,633.9 1032.0,634.6 1035.0,635.3 1038.0,636.0 1041.0,636.8 1044.0,637.5 1047.0,638.2 1050.0,638.9 1053.0,639.6 1056.0,640.3 1059.0,641.0 1062.0,641.8 1065.0,642.5 1068.0,643.2 1071.0,643.9 1074.0,644.7 1077.0,645.4 1080.0,646.1 1083.0,646.9 1086.0,647.6 1089.0,648.3 1092.0,649.1 1095.0,649.8 1098.0,650.6 1101.0,651.3 1104.0,652.1 1107.0,652.8 1110.0,653.6 1113.0,654.3 1116.0,655.1 1119.0,655.8 1122.0,656.6 1125.0,657.3 1128.0,658.1 1131.0,658.9 1134.0,659.6 1137.0,660.4 1140.0,661.2 1143.0,661.9 1146.0,662.7 1149.0,663.5 1152.0,664.2 1155.0,665.0 1158.0,665.8 1161.0,666.6 1164.0,667.4 1167.0,668.1 1170.0,668.9 1173.0,669.7 1176.0,670.5 1179.0,671.3 1182.0,672.1 1185.0,672.9 1188.0,673.7 1191.0,674.4 1194.0,675.2 1197.0,676.0 1200.0,676.8 1203.0,677.7 1206.0,678.5 1209.0,679.3 1212.0,680.1 1215.0,680.9 1218.0,681.7 1221.0,682.5 1224.0,683.3 1227.0,684.2 1230.0,685.0 1233.0,685.8 1236.0,686.6 1239.0,687.5 1242.0,688.3 1245.0,689.1 1248.0,690.0 1251.0,690.8 1254.0,691.7 1257.0,692.5 1260.0,693.3 1263.0,694.2 1266.0,695.0 1269.0,695.9 1272.0,696.8 1275.0,697.6 1278.0,698.5 1281.0,699.4 1284.0,700.2 1287.0,701.1 1290.0,702.0 1293.0,702.8 1296.0,703.7 1299.0,704.6 1302.0,705.5 1305.0,706.4 1308.0,707.3 1311.0,708.2 1314.0,709.1 1317.0,710.0 1320.0,710.9 1323.0,711.8 1326.0,712.7 1329.0,713.6 1332.0,714.5 1335.0,715.4 1338.0,716.4 1341.0,717.3 1344.0,718.2 1347.0,719.2 1350.0,720.1 1353.0,721.0 1356.0,722.0 1359.0,722.9 1362.0,723.9 1365.0,724.8 1368.0,725.8 1371.0,726.8 1374.0,727.7 1377.0,728.7 1380.0,729.7 1383.0,730.7 1386.0,731.6 1389.0,732.6 1392.0,733.6 1395.0,734.6 1398.0,735.6 1401.0,736.6 1404.0,737.6 1407.0,738.6 1410.0,739.6 1413.0,740.6 1416.0,741.7 1419.0,742.7 1422.0,743.7 1425.0,744.7 1428.0,745.8 1431.0,746.8 1434.0,747.8 1437.0,748.9 1440.0,749.9 1443.0,751.0 1446.0,752.0 1449.0,753.1 1452.0,754.1 1455.0,755.2 1458.0,756.3 1461.0,757.3 1464.0,758.4 1467.0,759.5 1470.0,760.5 1473.0,761.6 1476.0,762.7 1479.0,763.8 1482.0,764.9 1485.0,765.9 1488.0,767.0 1491.0,768.1 1494.0,769.2 1497.0,770.3 1500.0,771.4 1503.0,772.5 1506.0,773.6 1509.0,774.7 1512.0,775.8 1515.0,776.9 1518.0,778.0 1521.0,779.1 1524.0,780.3 1527.0,781.4 1530.0,782.5 1533.0,783.6 1536.0,784.7 1539.0,785.8 1542.0,787.0 1545.0,788.1 1548.0,789.2 1551.0,790.3 1554.0,791.5 1557.0,792.6 1560.0,793.7 1563.0,794.8 1566.0,796.0 1569.0,797.1 1572.0,798.2 1575.0,799.4 1578.0,800.5 1581.0,801.6 1584.0,802.8 1587.0,803.9 1590.0,805.0 1593.0,806.2 1596.0,807.3 1599.0,808.4 1602.0,809.6 1605.0,810.7 1608.0,811.9 1611.0,813.0 1614.0,814.1 1617.0,815.3 1620.0,816.4 1623.0,817.6 1626.0,818.7 1629.0,819.8 1632.0,821.0 1635.0,822.1 1638.0,823.2 1641.0,824.4 1644.0,825.5 1647.0,826.7 1650.0,827.8 1653.0,828.9 1656.0,830.1 1659.0,831.2 1662.0,832.3 1665.0,833.5 1668.0,834.6 1671.0,835.7 1674.0,836.9 1677.0,838.0 1680.0,839.1 1683.0,840.2 1686.0,841.4 1689.0,842.5 1692.0,843.6 1695.0,844.7 1698.0,845.9 1701.0,847.0 1704.0,848.1 1707.0,849.2 1710.0,850.3 1713.0,851.4 1716.0,852.5 1719.0,853.7 1722.0,854.8 1725.0,855.9 1728.0,857.0 1731.0,858.1 1734.0,859.2 1737.0,860.3 1740.0,861.4 1743.0,862.5 1746.0,863.6 1749.0,864.7 1752.0,865.7 1755.0,866.8 1758.0,867.9 1761.0,869.0 1764.0,870.1 1767.0,871.1 1770.0,872.2 1773.0,873.3 1776.0,874.4 1779.0,875.4 1782.0,876.5 1785.0,877.5 1788.0,878.6 1791.0,879.6 1794.0,880.7 1797.0,881.7 1800.0,882.8 1803.0,883.8 1806.0,884.9 1809.0,885.9 1812.0,886.9 1815.0,888.0 1818.0,889.0 1821.0,890.0 1824.0,891.0 1827.0,892.0 1830.0,893.0 1833.0,894.0 1836.0,895.1 1839.0,896.0 1842.0,897.0 1844.9,898.0" fill="none" stroke="#00ff00" stroke-width="5" stroke-linejoin="round"/>
<polyline points="300.0,193.2 303.0,194.0 306.0,194.8 309.0,195.6 312.0,196.4 315.0,197.3 318.0,198.1 321.0,199.0 324.0,199.9 327.0,200.8 330.0,201.7 333.0,202.6 336.0,203.6 339.0,204.5 342.0,205.5 345.0,206.5 348.0,207.5 351.0,208.5 354.0,209.5 357.0,210.6 360.0,211.6 363.0,212.7 366.0,213.8 369.0,214.9 372.0,216.0 375.0,217.2 378.0,218.3 381.0,219.5 384.0,220.7 387.0,221.9 390.0,223.1 393.0,224.4 396.0,225.6 399.0,226.9 402.0,228.2 405.0,229.5 408.0,230.9 411.0,232.2 414.0,233.6 417.0,235.0 420.0,236.4 423.0,237.8 426.0,239.3 429.0,240.7 432.0,242.2 435.0,243.7 438.0,245.3 441.0,246.8 444.0,248.4 447.0,249.9 450.0,251.5 453.0,253.2 456.0,254.8 459.0,256.5 462.0,258.1 465.0,259.8 468.0,261.5 471.0,263.2 474.0,265.0 477.0,266.7 480.0,268.5 483.0,270.2 486.0,272.0 489.0,273.8 492.0,275.6 495.0,277.4 498.0,279.2 501.0,281.0 504.0,282.8 507.0,284.6 510.0,286.4 513.0,288.2 516.0,290.1 519.0,291.9 522.0,293.7 525.0,295.5 528.0,297.4 531.0,299.2 534.0,301.0 537.0,302.8 540.0,304.6 543.0,306.4 546.0,308.2 549.0,310.0 552.0,311.7 555.0,313.5 558.0,315.3 561.0,317.0 564.0,318.7 567.0,320.5 570.0,322.2 573.0,323.9 576.0,325.5 579.0,327.2 582.0,328.8 585.0,330.5 588.0,332.1 591.0,333.7 594.0,335.3 597.0,336.8 600.0,338.3 603.0,339.9 606.0,341.4 609.0,342.9 612.0,344.3 615.0,345.8 618.0,347.2 621.0,348.7 624.0,350.1 627.0,351.5 630.0,352.9 633.0,354.2 636.0,355.6 639.0,356.9 642.0,358.3 645.0,359.6 648.0,360.9 651.0,362.2 654.0,363.5 657.0,364.8 660.0,366.0 663.0,367.3 666.0,368.5 669.0,369.8 672.0,371.0 675.0,372.2 678.0,373.4 681.0,374.6 684.0,375.8 687.0,377.0 690.0,378.2 693.0,379.3 696.0,380.5 699.0,381.7 702.0,382.8 705.0,384.0 708.0,385.1 711.0,386.3 714.0,387.4 717.0,388.5 720.0,389.6 723.0,390.8 726.0,391.9 729.0,393.0 732.0,394.1 735.0,395.2 738.0,396.4 741.0,397.5 744.0,398.6 747.0,399.7 750.0,400.8 753.0,401.9 756.0,403.0 759.0,404.1 762.0,405.2 765.0,406.3 768.0,407.4 771.0,408.6 774.0,409.7 777.0,410.8 780.0,411.9 783.0,413.0 786.0,414.1 789.0,415.2 792.0,416.3 795.0,417.4 798.0,418.5 801.0,419.6 804.0,420.8 807.0,421.9 810.0,423.0 813.0,424.1 816.0,425.2 819.0,426.3 822.0,427.4 825.0,428.5 828.0,429.6 831.0,430.7 834.0,431.9 837.0,433.0 840.0,434.1 843.0,435.2 846.0,436.3 849.0,437.4 852.0,438.5 855.0,439.6 858.0,440.8 861.0,441.9 864.0,443.0 867.0,444.1 870.0,445.2 873.0,446.3 876.0,447.5 879.0,448.6 882.0,449.7 885.0,450.8 888.0,451.9 891.0,453.1 894.0,454.2 897.0,455.3 900.0,456.4 903.0,457.5 906.0,458.7 909.0,459.8 912.0,460.9 915.0,462.0 918.0,463.2 921.0,464.3 924.0,465.4 927.0,466.5 930.0,467.7 933.0,468.8 936.0,469.9 939.0,471.1 942.0,472.2 945.0,473.3 948.0,474.5 951.0,475.6 954.0,476.7 957.0,477.9 960.0,479.0 963.0,480.1 966.0,481.3 969.0,482.4 972.0,483.5 975.0,484.7 978.0,485.8 981.0,487.0 984.0,488.1 987.0,489.3 990.0,490.4 993.0,491.5 996.0,492.7 999.0,493.8 1002.0,495.0 1005.0,496.1 1008.0,497.3 1011.0,498.4 1014.0,499.6 1017.0,500.7 1020.0,501.9 1023.0,503.0 1026.0,504.2 1029.0,505.3 1032.0,506.5 1035.0,507.7 1038.0,508.8 1041.0,510.0 1044.0,511.1 1047.0,512.3 1050.0,513.5 1053.0,514.6 1056.0,515.8 1059.0,517.0 1062.0,518.1 1065.0,519.3 1068.0,520.5 1071.0,521.6 1074.0,522.8 1077.0,524.0 1080.0,525.1 1083.0,526.3 1086.0,527.5 1089.0,528.7 1092.0,529.9 1095.0,531.0 1098.0,532.2 1101.0,533.4 1104.0,534.6 1107.0,535.8 1110.0,537.0 1113.0,538.2 1116.0,539.4 1119.0,540.6 1122.0,541.7 1125.0,542.9 1128.0,544.1 1131.0,545.3 1134.0,546.5 1137.0,547.7 1140.0,548.8 1143.0,550.0 1146.0,551.2 1149.0,552.4 1152.0,553.5 1155.0,554.7 1158.0,555.8 1161.0,557.0 1164.0,558.1 1167.0,559.2 1170.0,560.4 1173.0,561.5 1176.0,562.6 1179.0,563.7 1182.0,564.8 1185.0,566.0 1188.0,567.1 1191.0,568.2 1194.0,569.3 1197.0,570.4 1200.0,571.5 1203.0,572.6 1206.0,573.8 1209.0,574.9 1212.0,576.0 1215.0,577.1 1218.0,578.2 1221.0,579.3 1224.0,580.4 1227.0,581.6 1230.0,582.7 1233.0,583.8 1236.0,584.9 1239.0,586.0 1242.0,587.1 1245.0,588.3 1248.0,589.4 1251.0,590.5 1254.0,591.6 1257.0,592.7 1260.0,593.9 1263.0,595.0 1266.0,596.1 1269.0,597.2 1272.0,598.4 1275.0,599.5 1278.0,600.6 1281.0,601.8 1284.0,602.9 1287.0,604.0 1290.0,605.2 1293.0,606.3 1296.0,607.4 1299.0,608.6 1302.0,609.7 1305.0,610.9 1308.0,612.0 1311.0,613.1 1314.0,614.3 1317.0,615.4 1320.0,616.6 1323.0,617.7 1326.0,618.9 1329.0,620.0 1332.0,621.2 1335.0,622.4 1338.0,623.5 1341.0,624.7 1344.0,625.8 1347.0,627.0 1350.0,628.2 1353.0,629.3 1356.0,630.5 1359.0,631.7 1362.0,632.8 1365.0,634.0 1368.0,635.2 1371.0,636.4 1374.0,637.6 1377.0,638.7 1380.0,639.9 1383.0,641.1 1386.0,642.3 1389.0,643.5 1392.0,644.7 1395.0,645.9 1398.0,647.1 1401.0,648.3 1404.0,649.5 1407.0,650.7 1410.0,651.9 1413.0,653.2 1416.0,654.4 1419.0,655.6 1422.0,656.8 1425.0,658.0 1428.0,659.3 1431.0,660.5 1434.0,661.7 1437.0,663.0 1440.0,664.2 1443.0,665.4 1446.0,666.7 1449.0,667.9 1452.0,669.2 1455.0,670.4 1458.0,671.7 1461.0,673.0 1464.0,674.2 1467.0,675.5 1470.0,676.8 1473.0,678.0 1476.0,679.3 1479.0,680.6 1482.0,681.9 1485.0,683.1 1488.0,684.4 1491.0,685.7 1494.0,687.0 1497.0,688.3 1500.0,689.5 1503.0,690.8 1506.0,692.1 1509.0,693.4 1512.0,694.7 1515.0,696.0 1518.0,697.3 1521.0,698.6 1524.0,699.9 1527.0,701.2 1530.0,702.5 1533.0,703.8 1536.0,705.1 1539.0,706.4 1542.0,707.7 1545.0,709.0 1548.0,710.3 1551.0,711.6 1554.0,712.9 1557.0,714.2 1560.0,715.5 1563.0,716.8 1566.0,718.1 1569.0,719.4 1572.0,720.7 1575.0,722.0 1578.0,723.3 1581.0,724.6 1584.0,725.9 1587.0,727.2 1590.0,728.6 1593.0,729.9 1596.0,731.1 1599.0,732.4 1602.0,733.7 1605.0,735.0 1608.0,736.3 1611.0,737.6 1614.0,738.9 1617.0,740.2 1620.0,741.5 1623.0,742.8 1626.0,744.1 1629.0,745.4 1632.0,746.6 1635.0,747.9 1638.0,749.2 1641.0,750.5 1644.0,751.8 1647.0,753.0 1650.0,754.3 1653.0,755.6 1656.0,756.8 1659.0,758.1 1662.0,759.4 1665.0,760.6 1668.0,761.9 1671.0,763.1 1674.0,764.4 1677.0,765.6 1680.0,766.9 1683.0,768.1 1686.0,769.3 1689.0,770.6 1692.0,771.8 1695.0,773.0 1698.0,774.3 1701.0,775.5 1704.0,776.7 1707.0,777.9 1710.0,779.1 1713.0,780.3 1716.0,781.5 1719.0,782.7 1722.0,783.9 1725.0,785.1 1728.0,786.3 1731.0,787.5 1734.0,788.6 1737.0,789.8 1740.0,791.0 1743.0,792.1 1746.0,793.3 1749.0,794.5 1752.0,795.6 1755.0,796.7 1758.0,797.9 1761.0,799.0 1764.0,800.1 1767.0,801.3 1770.0,802.4 1773.0,803.5 1776.0,804.6 1779.0,805.7 1782.0,806.8 1785.0,807.9 1788.0,809.0 1791.0,810.0 1794.0,811.1 1797.0,812.2 1800.0,813.2 1803.0,814.3 1806.0,815.3 1809.0,816.4 1812.0,817.4 1815.0,818.4 1818.0,819.5 1821.0,820.5 1824.0,821.5 1827.0,822.5 1830.0,823.5 1833.0,824.4 1836.0,825.4 1839.0,826.4 1842.0,827.4 1845.0,828.3 1846.0,828.6" fill="none" stroke="#0000ff" stroke-width="5" stroke-linejoin="round"/>
<polyline points="300.0,174.2 303.0,174.5 306.0,174.8 309.0,175.1 312.0,175.5 315.0,175.9 318.0,176.4 321.0,176.9 324.0,177.4 327.0,178.0 330.0,178.5 333.0,179.2 336.0,179.8 339.0,180.5 342.0,181.2 345.0,182.0 348.0,182.7 351.0,183.6 354.0,184.4 357.0,185.3 360.0,186.2 363.0,187.1 366.0,188.1 369.0,189.1 372.0,190.1 375.0,191.2 378.0,192.3 381.0,193.4 384.0,194.5 387.0,195.7 390.0,196.9 393.0,198.1 396.0,199.4 399.0,200.7 402.0,202.0 405.0,203.4 408.0,204.7 411.0,206.1 414.0,207.6 417.0,209.0 420.0,210.5 423.0,212.0 426.0,213.5 429.0,215.1 432.0,216.7 435.0,218.3 438.0,219.9 441.0,221.6 444.0,223.2 447.0,225.0 450.0,226.7 453.0,228.4 456.0,230.2 459.0,232.0 462.0,233.8 465.0,235.7 468.0,237.5 471.0,239.4 474.0,241.3 477.0,243.2 480.0,245.1 483.0,247.1 486.0,249.0 489.0,251.0 492.0,253.0 495.0,255.0 498.0,257.0 501.0,259.0 504.0,261.0 507.0,263.1 510.0,265.1 513.0,267.2 516.0,269.2 519.0,271.3 522.0,273.3 525.0,275.4 528.0,277.5 531.0,279.6 534.0,281.6 537.0,283.7 540.0,285.8 543.0,287.9 546.0,289.9 549.0,292.0 552.0,294.1 555.0,296.1 558.0,298.2 561.0,300.3 564.0,302.3 567.0,304.4 570.0,306.4 573.0,308.4 576.0,310.4 579.0,312.4 582.0,314.4 585.0,316.4 588.0,318.4 591.0,320.3 594.0,322.3 597.0,324.2 600.0,326.1 603.0,328.1 606.0,329.9 609.0,331.8 612.0,333.7 615.0,335.6 618.0,337.4 621.0,339.2 624.0,341.1 627.0,342.9 630.0,344.7 633.0,346.5 636.0,348.2 639.0,350.0 642.0,351.8 645.0,353.5 648.0,355.2 651.0,356.9 654.0,358.7 657.0,360.4 660.0,362.0 663.0,363.7 666.0,365.4 669.0,367.0 672.0,368.7 675.0,370.3 678.0,371.9 681.0,373.6 684.0,375.2 687.0,376.8 690.0,378.3 693.0,379.9 696.0,381.5 699.0,383.0 702.0,384.6 705.0,386.1 708.0,387.6 711.0,389.1 714.0,390.7 717.0,392.1 720.0,393.6 723.0,395.1 726.0,396.6 729.0,398.0 732.0,399.5 735.0,400.9 738.0,402.4 741.0,403.8 744.0,405.2 747.0,406.6 750.0,408.0 753.0,409.4 756.0,410.8 759.0,412.2 762.0,413.6 765.0,414.9 768.0,416.3 771.0,417.6 774.0,418.9 777.0,420.3 780.0,421.6 783.0,422.9 786.0,424.2 789.0,425.5 792.0,426.8 795.0,428.1 798.0,429.4 801.0,430.7 804.0,431.9 807.0,433.2 810.0,434.4 813.0,435.7 816.0,436.9 819.0,438.1 822.0,439.4 825.0,440.6 828.0,441.8 831.0,443.0 834.0,444.2 837.0,445.4 840.0,446.6 843.0,447.8 846.0,449.0 849.0,450.1 852.0,451.3 855.0,452.5 858.0,453.6 861.0,454.8 864.0,455.9 867.0,457.1 870.0,458.2 873.0,459.3 876.0,460.5 879.0,461.6 882.0,462.7 885.0,463.8 888.0,464.9 891.0,466.0 894.0,467.1 897.0,468.2 900.0,469.3 903.0,470.4 906.0,471.5 909.0,472.6 912.0,473.6 915.0,474.7 918.0,475.8 921.0,476.9 924.0,477.9 927.0,479.0 930.0,480.0 933.0,481.1 936.0,482.1 939.0,483.2 942.0,484.2 945.0,485.3 948.0,486.3 951.0,487.3 954.0,488.4 957.0,489.4 960.0,490.4 963.0,491.4 966.0,492.5 969.0,493.5 972.0,494.5 975.0,495.5 978.0,496.5 981.0,497.5 984.0,498.5 987.0,499.5 990.0,500.6 993.0,501.6 996.0,502.5 999.0,503.5 1002.0,504.5 1005.0,505.5 1008.0,506.5 1011.0,507.5 1014.0,508.5 1017.0,509.5 1020.0,510.5 1023.0,511.4 1026.0,512.4 1029.0,513.4 1032.0,514.4 1035.0,515.3 1038.0,516.3 1041.0,517.3 1044.0,518.2 1047.0,519.2 1050.0,520.2 1053.0,521.1 1056.0,522.1 1059.0,523.0 1062.0,524.0 1065.0,525.0 1068.0,525.9 1071.0,526.9 1074.0,527.8 1077.0,528.8 1080.0,529.7 1083.0,530.7 1086.0,531.6 1089.0,532.5 1092.0,533.5 1095.0,534.4 1098.0,535.4 1101.0,536.3 1104.0,537.3 1107.0,538.2 1110.0,539.1 1113.0,540.1 1116.0,541.0 1119.0,541.9 1122.0,542.9 1125.0,543.8 1128.0,544.7 1131.0,545.7 1134.0,546.6 1137.0,547.5 1140.0,548.4 1143.0,549.4 1146.0,550.3 1149.0,551.2 1152.0,552.1 1155.0,553.1 1158.0,554.0 1161.0,554.9 1164.0,555.8 1167.0,556.8 1170.0,557.7 1173.0,558.6 1176.0,559.5 1179.0,560.4 1182.0,561.4 1185.0,562.3 1188.0,563.2 1191.0,564.1 1194.0,565.1 1197.0,566.0 1200.0,566.9 1203.0,567.8 1206.0,568.7 1209.0,569.7 1212.0,570.6 1215.0,571.5 1218.0,572.4 1221.0,573.3 1224.0,574.3 1227.0,575.2 1230.0,576.1 1233.0,577.0 1236.0,577.9 1239.0,578.9 1242.0,579.8 1245.0,580.7 1248.0,581.6 1251.0,582.5 1254.0,583.5 1257.0,584.4 1260.0,585.3 1263.0,586.2 1266.0,587.2 1269.0,588.1 1272.0,589.0 1275.0,590.0 1278.0,590.9 1281.0,591.8 1284.0,592.7 1287.0,593.7 1290.0,594.6 1293.0,595.5 1296.0,596.5 1299.0,597.4 1302.0,598.3 1305.0,599.3 1308.0,600.2 1311.0,601.2 1314.0,602.1 1317.0,603.0 1320.0,604.0 1323.0,604.9 1326.0,605.9 1329.0,606.8 1332.0,607.8 1335.0,608.7 1338.0,609.7 1341.0,610.6 1344.0,611.6 1347.0,612.5 1350.0,613.5 1353.0,614.4 1356.0,615.4 1359.0,616.4 1362.0,617.3 1365.0,618.3 1368.0,619.2 1371.0,620.2 1374.0,621.2 1377.0,622.2 1380.0,623.1 1383.0,624.1 1386.0,625.1 1389.0,626.1 1392.0,627.0 1395.0,628.0 1398.0,629.0 1401.0,630.0 1404.0,631.0 1407.0,632.0 1410.0,633.0 1413.0,634.0 1416.0,634.9 1419.0,635.9 1422.0,636.9 1425.0,638.0 1428.0,639.0 1431.0,640.0 1434.0,641.0 1437.0,642.0 1440.0,643.0 1443.0,644.0 1446.0,645.0 1449.0,646.1 1452.0,647.1 1455.0,648.1 1458.0,649.1 1461.0,650.2 1464.0,651.2 1467.0,652.3 1470.0,653.3 1473.0,654.3 1476.0,655.4 1479.0,656.4 1482.0,657.5 1485.0,658.5 1488.0,659.6 1491.0,660.6 1494.0,661.7 1497.0,662.7 1500.0,663.8 1503.0,664.9 1506.0,665.9 1509.0,667.0 1512.0,668.1 1515.0,669.1 1518.0,670.2 1521.0,671.3 1524.0,672.4 1527.0,673.4 1530.0,674.5 1533.0,675.6 1536.0,676.7 1539.0,677.8 1542.0,678.8 1545.0,679.9 1548.0,681.0 1551.0,682.1 1554.0,683.2 1557.0,684.3 1560.0,685.4 1563.0,686.5 1566.0,687.6 1569.0,688.7 1572.0,689.8 1575.0,690.9 1578.0,692.0 1581.0,693.1 1584.0,694.2 1587.0,695.3 1590.0,696.4 1593.0,697.5 1596.0,698.6 1599.0,699.7 1602.0,700.9 1605.0,702.0 1608.0,703.1 1611.0,704.2 1614.0,705.3 1617.0,706.4 1620.0,707.5 1623.0,708.7 1626.0,709.8 1629.0,710.9 1632.0,712.0 1635.0,713.1 1638.0,714.3 1641.0,715.4 1644.0,716.5 1647.0,717.6 1650.0,718.7 1653.0,719.9 1656.0,721.0 1659.0,722.1 1662.0,723.2 1665.0,724.4 1668.0,725.5 1671.0,726.6 1674.0,727.8 1677.0,728.9 1680.0,730.0 1683.0,731.1 1686.0,732.3 1689.0,733.4 1692.0,734.5 1695.0,735.6 1698.0,736.8 1701.0,737.9 1704.0,739.0 1707.0,740.2 1710.0,741.3 1713.0,742.4 1716.0,743.5 1719.0,744.7 1722.0,745.8 1725.0,746.9 1728.0,748.1 1731.0,749.2 1734.0,750.3 1737.0,751.4 1740.0,752.6 1743.0,753.7 1746.0,754.8 1749.0,755.9 1752.0,757.1 1755.0,758.2 1758.0,759.3 1761.0,760.4 1764.0,761.6 1767.0,762.7 1770.0,763.8 1773.0,764.9 1776.0,766.0 1779.0,767.2 1782.0,768.3 1785.0,769.4 1788.0,770.5 1791.0,771.6 1794.0,772.8 1797.0,773.9 1800.0,775.0 1803.0,776.1 1806.0,777.2 1809.0,778.3 1812.0,779.4 1815.0,780.5 1818.0,781.6 1821.0,782.7 1824.0,783.9 1827.0,785.0 1830.0,786.1 1833.0,787.2 1836.0,788.3 1838.2,789.1" fill="none" stroke="#ff00ff" stroke-width="5" stroke-linejoin="round"/>
<rect x="1187" y="92.2" width="654.6" height="463" fill="#000"/>
<rect x="1171.9" y="76.7" width="651.9" height="463.5" fill="#fcfcfb" stroke="#000" stroke-width="2.6"/>
<line x1="1191" y1="137.9" x2="1282" y2="137.9" stroke="#000000" stroke-width="5"/>
<line x1="1191" y1="214.1" x2="1282" y2="214.1" stroke="#ff0000" stroke-width="5"/>
<line x1="1191" y1="304.9" x2="1282" y2="304.9" stroke="#00ff00" stroke-width="5"/>
<line x1="1191" y1="394.4" x2="1282" y2="394.4" stroke="#0000ff" stroke-width="5"/>
<line x1="1191" y1="484.2" x2="1282" y2="484.2" stroke="#ff00ff" stroke-width="5"/>
<text transform="translate(1290.00,151.00) scale(1.0000,1.0491)" font-size="52.00" letter-spacing="1.77" fill="#000">PBDP</text>
<text transform="translate(1295.40,226.20) scale(1.0000,0.9459)" font-size="52.00" letter-spacing="1.19" fill="#000">PBDP/10.2HGM-NH</text>
<text transform="translate(1786.00,247.00) scale(0.9799,1.0399)" font-size="34.00" fill="#000">2</text>
<text transform="translate(1294.80,317.20) scale(1.0000,1.0174)" font-size="52.00" letter-spacing="1.20" fill="#000">PBDP/19.3HGM-NH</text>
<text transform="translate(1786.00,337.00) scale(1.0219,0.9960)" font-size="34.00" fill="#000">2</text>
<text transform="translate(1294.80,405.60) scale(1.0000,1.0187)" font-size="52.00" letter-spacing="1.20" fill="#000">PBDP/27.5HGM-NH</text>
<text transform="translate(1786.00,427.00) scale(1.0219,1.0158)" font-size="34.00" fill="#000">2</text>
<text transform="translate(1294.80,496.00) scale(1.0000,1.0211)" font-size="52.00" letter-spacing="1.20" fill="#000">PBDP/35.0HGM-NH</text>
<text transform="translate(1786.00,517.00) scale(1.0219,0.9857)" font-size="34.00" fill="#000">2</text>
<line x1="297.5" y1="48.5" x2="297.5" y2="1212.5" stroke="#000" stroke-width="5"/>
<line x1="273" y1="51" x2="1855.5" y2="51" stroke="#000" stroke-width="5"/>
<line x1="273" y1="1211.2" x2="1856" y2="1211.2" stroke="#000" stroke-width="3"/>
<line x1="273" y1="1211.2" x2="297" y2="1211.2" stroke="#000" stroke-width="3"/>
<text transform="translate(226.00,1228.00) scale(0.9948,0.9947)" font-size="58.60" letter-spacing="5.00" fill="#000">0</text>
<line x1="284" y1="1128.4" x2="297" y2="1128.4" stroke="#000" stroke-width="3.5"/>
<line x1="273" y1="1045.5" x2="297" y2="1045.5" stroke="#000" stroke-width="5"/>
<text transform="translate(160.00,1062.35) scale(0.9200,0.9947)" font-size="58.60" letter-spacing="4.78" fill="#000">500</text>
<line x1="284" y1="962.7" x2="297" y2="962.7" stroke="#000" stroke-width="2.5"/>
<line x1="273" y1="879.9" x2="297" y2="879.9" stroke="#000" stroke-width="5"/>
<text transform="translate(125.00,896.70) scale(0.9200,0.9947)" font-size="58.60" letter-spacing="5.01" fill="#000">1000</text>
<line x1="284" y1="797.0" x2="297" y2="797.0" stroke="#000" stroke-width="3.5"/>
<line x1="273" y1="714.2" x2="297" y2="714.2" stroke="#000" stroke-width="3.5"/>
<text transform="translate(125.00,731.05) scale(0.9200,0.9947)" font-size="58.60" letter-spacing="5.01" fill="#000">1500</text>
<line x1="284" y1="631.4" x2="297" y2="631.4" stroke="#000" stroke-width="4"/>
<line x1="273" y1="548.5" x2="297" y2="548.5" stroke="#000" stroke-width="2.5"/>
<text transform="translate(126.00,565.40) scale(0.9200,0.9947)" font-size="58.60" letter-spacing="4.63" fill="#000">2000</text>
<line x1="284" y1="465.7" x2="297" y2="465.7" stroke="#000" stroke-width="4"/>
<line x1="273" y1="382.9" x2="297" y2="382.9" stroke="#000" stroke-width="5"/>
<text transform="translate(126.00,399.75) scale(0.9200,0.9947)" font-size="58.60" letter-spacing="4.63" fill="#000">2500</text>
<line x1="284" y1="300.0" x2="297" y2="300.0" stroke="#000" stroke-width="2.5"/>
<line x1="273" y1="217.2" x2="297" y2="217.2" stroke="#000" stroke-width="5"/>
<text transform="translate(127.00,234.10) scale(0.9200,0.9947)" font-size="58.60" letter-spacing="4.24" fill="#000">3000</text>
<line x1="284" y1="134.4" x2="297" y2="134.4" stroke="#000" stroke-width="2.5"/>
<line x1="273" y1="51.5" x2="297" y2="51.5" stroke="#000" stroke-width="5"/>
<text transform="translate(127.00,68.45) scale(0.9200,0.9947)" font-size="58.60" letter-spacing="4.24" fill="#000">3500</text>
<line x1="381.6" y1="1211" x2="381.6" y2="1223.5" stroke="#000" stroke-width="5.5"/>
<line x1="381.6" y1="51" x2="381.6" y2="64" stroke="#000" stroke-width="5.5"/>
<line x1="592.4" y1="1211" x2="592.4" y2="1235" stroke="#000" stroke-width="6"/>
<line x1="592.4" y1="51" x2="592.4" y2="75" stroke="#000" stroke-width="6"/>
<text transform="translate(542.00,1295.00) scale(0.9200,1.0279)" font-size="58.60" letter-spacing="4.79" fill="#000">100</text>
<line x1="803.1" y1="1211" x2="803.1" y2="1223.5" stroke="#000" stroke-width="2.5"/>
<line x1="803.1" y1="51" x2="803.1" y2="64" stroke="#000" stroke-width="2.5"/>
<line x1="1013.9" y1="1211" x2="1013.9" y2="1235" stroke="#000" stroke-width="3"/>
<line x1="1013.9" y1="51" x2="1013.9" y2="75" stroke="#000" stroke-width="3"/>
<text transform="translate(964.00,1296.00) scale(0.9200,1.0213)" font-size="58.60" letter-spacing="3.63" fill="#000">200</text>
<line x1="1224.7" y1="1211" x2="1224.7" y2="1223.5" stroke="#000" stroke-width="3"/>
<line x1="1224.7" y1="51" x2="1224.7" y2="64" stroke="#000" stroke-width="3"/>
<line x1="1435.4" y1="1211" x2="1435.4" y2="1235" stroke="#000" stroke-width="5"/>
<line x1="1435.4" y1="51" x2="1435.4" y2="75" stroke="#000" stroke-width="5"/>
<text transform="translate(1386.00,1296.00) scale(0.9200,1.0207)" font-size="58.60" letter-spacing="3.57" fill="#000">300</text>
<line x1="1646.2" y1="1211" x2="1646.2" y2="1223.5" stroke="#000" stroke-width="4"/>
<line x1="1646.2" y1="51" x2="1646.2" y2="64" stroke="#000" stroke-width="4"/>
<line x1="1857.0" y1="1211" x2="1857.0" y2="1236.5" stroke="#000" stroke-width="2.6"/>
<text transform="translate(1805.00,1295.00) scale(0.9200,1.0255)" font-size="58.60" letter-spacing="4.72" fill="#000">400</text>
<line x1="1856.7" y1="49" x2="1856.7" y2="1212.5" stroke="#0000ff" stroke-width="2.7"/>
<line x1="1856" y1="1211.2" x2="1880" y2="1211.2" stroke="#0000ff" stroke-width="2.5"/>
<text transform="translate(1894.00,1228.00) scale(0.9200,1.0132)" font-size="58.60" letter-spacing="4.89" fill="#0000ff">0.0</text>
<line x1="1856" y1="1095.3" x2="1869" y2="1095.3" stroke="#0000ff" stroke-width="5"/>
<line x1="1856" y1="979.4" x2="1880" y2="979.4" stroke="#0000ff" stroke-width="2.5"/>
<text transform="translate(1894.00,996.00) scale(0.9200,1.0132)" font-size="58.60" letter-spacing="4.35" fill="#0000ff">0.1</text>
<line x1="1856" y1="863.5" x2="1869" y2="863.5" stroke="#0000ff" stroke-width="5"/>
<line x1="1856" y1="747.6" x2="1880" y2="747.6" stroke="#0000ff" stroke-width="2.5"/>
<text transform="translate(1894.00,765.00) scale(0.9200,1.0132)" font-size="58.60" letter-spacing="4.89" fill="#0000ff">0.2</text>
<line x1="1856" y1="631.7" x2="1869" y2="631.7" stroke="#0000ff" stroke-width="5"/>
<line x1="1856" y1="515.8" x2="1880" y2="515.8" stroke="#0000ff" stroke-width="2.5"/>
<text transform="translate(1894.00,533.00) scale(0.9200,1.0132)" font-size="58.60" letter-spacing="4.35" fill="#0000ff">0.3</text>
<line x1="1856" y1="399.9" x2="1869" y2="399.9" stroke="#0000ff" stroke-width="5"/>
<line x1="1856" y1="284.0" x2="1880" y2="284.0" stroke="#0000ff" stroke-width="2.5"/>
<text transform="translate(1894.00,301.00) scale(0.9200,1.0132)" font-size="58.60" letter-spacing="3.77" fill="#0000ff">0.4</text>
<line x1="1856" y1="168.1" x2="1869" y2="168.1" stroke="#0000ff" stroke-width="4"/>
<line x1="1856" y1="52.2" x2="1880" y2="52.2" stroke="#0000ff" stroke-width="5"/>
<text transform="translate(1894.00,69.00) scale(0.9200,1.0132)" font-size="58.60" letter-spacing="4.35" fill="#0000ff">0.5</text>
<text transform="translate(68.40,1004.00) rotate(-90) scale(1.0000,1.0179)" font-size="60.00" letter-spacing="-0.12" fill="#000">Storage Modulus (MPa)</text>
<text transform="translate(2047.50,798.00) rotate(-90) scale(1.0000,0.9816)" font-size="60.00" letter-spacing="-0.16" fill="#000">Tan Delta</text>
<text transform="translate(837.00,1404.00) scale(1.0000,0.9991)" font-size="60.00" letter-spacing="0.39" fill="#000">Temperature</text>
<text transform="translate(1217.00,1405.00) scale(0.8628,0.9795)" font-size="60.00" fill="#000">(</text>
<text transform="translate(1241.30,1405.30) scale(1.0361,1.0228)" font-size="50.00" fill="#000" style="font-family:IPAGothic,'Noto Sans CJK SC',sans-serif;font-weight:normal">℃</text>
<text transform="translate(1299.00,1405.00) scale(0.8097,0.9795)" font-size="60.00" fill="#000">)</text>
</svg></body></html>
